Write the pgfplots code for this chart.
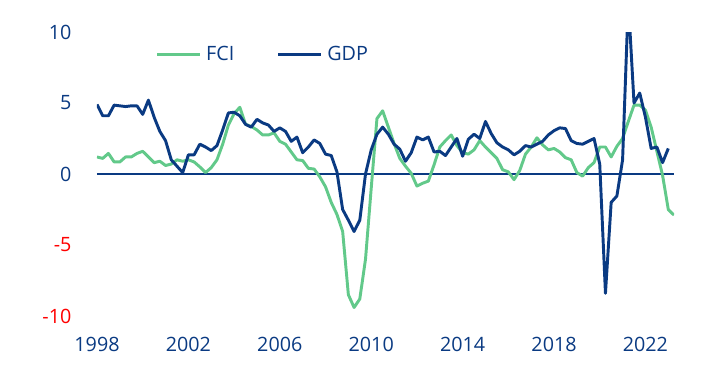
\documentclass[border=0pt]{standalone}
\usepackage{pgfplots}
\pgfplotsset{compat=1.18}
\usepackage{pgfplotstable}
\usepackage{fontspec}
\setmainfont{Open Sans}
\definecolor{navy}{HTML}{0A3A82}
\definecolor{fcigreen}{HTML}{62C98A}
\definecolor{negred}{HTML}{FF0000}

\pgfplotstableread{
x gdp
1998.00 4.9
1998.25 4.1
1998.50 4.1
1998.75 4.85
1999.00 4.8
1999.25 4.75
1999.50 4.8
1999.75 4.8
2000.00 4.2
2000.25 5.2
2000.50 4.0
2000.75 3.0
2001.00 2.35
2001.25 1.0
2001.50 0.55
2001.75 0.1
2002.00 1.35
2002.25 1.35
2002.50 2.1
2002.75 1.9
2003.00 1.65
2003.25 2.0
2003.50 3.1
2003.75 4.3
2004.00 4.35
2004.25 4.1
2004.50 3.5
2004.75 3.3
2005.00 3.85
2005.25 3.6
2005.50 3.45
2005.75 3.0
2006.00 3.25
2006.25 3.0
2006.50 2.3
2006.75 2.6
2007.00 1.5
2007.25 1.9
2007.50 2.4
2007.75 2.15
2008.00 1.4
2008.25 1.3
2008.50 0.15
2008.75 -2.5
2009.00 -3.25
2009.25 -4.05
2009.50 -3.25
2009.75 0.0
2010.00 1.7
2010.25 2.8
2010.50 3.3
2010.75 2.8
2011.00 2.1
2011.25 1.75
2011.50 0.9
2011.75 1.5
2012.00 2.6
2012.25 2.4
2012.50 2.6
2012.75 1.55
2013.00 1.6
2013.25 1.3
2013.50 1.9
2013.75 2.5
2014.00 1.25
2014.25 2.45
2014.50 2.8
2014.75 2.5
2015.00 3.7
2015.25 2.85
2015.50 2.2
2015.75 1.9
2016.00 1.7
2016.25 1.35
2016.50 1.6
2016.75 2.0
2017.00 1.9
2017.25 2.1
2017.50 2.3
2017.75 2.75
2018.00 3.05
2018.25 3.25
2018.50 3.2
2018.75 2.35
2019.00 2.15
2019.25 2.1
2019.50 2.3
2019.75 2.5
2020.00 0.7
2020.25 -8.4
2020.50 -2.0
2020.75 -1.55
2021.00 1.0
2021.25 12.2
2021.50 5.0
2021.75 5.7
2022.00 4.0
2022.25 1.8
2022.50 1.9
2022.75 0.8
2023.00 1.8
}\gdptable

\pgfplotstableread{
x fci
1998.00 1.2
1998.25 1.1
1998.50 1.45
1998.75 0.85
1999.00 0.85
1999.25 1.2
1999.50 1.2
1999.75 1.45
2000.00 1.6
2000.25 1.2
2000.50 0.8
2000.75 0.9
2001.00 0.6
2001.25 0.7
2001.50 1.0
2001.75 0.9
2002.00 1.0
2002.25 0.85
2002.50 0.5
2002.75 0.1
2003.00 0.45
2003.25 1.0
2003.50 2.1
2003.75 3.45
2004.00 4.25
2004.25 4.7
2004.50 3.5
2004.75 3.35
2005.00 3.1
2005.25 2.75
2005.50 2.75
2005.75 2.9
2006.00 2.3
2006.25 2.1
2006.50 1.55
2006.75 1.0
2007.00 0.95
2007.25 0.4
2007.50 0.35
2007.75 -0.2
2008.00 -0.9
2008.25 -2.0
2008.50 -2.85
2008.75 -4.05
2009.00 -8.5
2009.25 -9.4
2009.50 -8.8
2009.75 -6.0
2010.00 -1.0
2010.25 3.9
2010.50 4.45
2010.75 3.3
2011.00 2.15
2011.25 1.1
2011.50 0.55
2011.75 0.05
2012.00 -0.85
2012.25 -0.65
2012.50 -0.5
2012.75 0.65
2013.00 1.9
2013.25 2.35
2013.50 2.75
2013.75 2.0
2014.00 1.5
2014.25 1.4
2014.50 1.7
2014.75 2.35
2015.00 1.9
2015.25 1.5
2015.50 1.1
2015.75 0.3
2016.00 0.15
2016.25 -0.4
2016.50 0.25
2016.75 1.4
2017.00 1.9
2017.25 2.55
2017.50 2.05
2017.75 1.7
2018.00 1.8
2018.25 1.55
2018.50 1.15
2018.75 1.0
2019.00 0.1
2019.25 -0.15
2019.50 0.45
2019.75 0.8
2020.00 1.9
2020.25 1.9
2020.50 1.2
2020.75 1.95
2021.00 2.5
2021.25 3.7
2021.50 4.85
2021.75 4.85
2022.00 4.5
2022.25 3.3
2022.50 1.6
2022.75 -0.1
2023.00 -2.5
2023.25 -2.9
}\fcitable

\begin{document}
\begin{tikzpicture}
\begin{axis}[
  at={(0,0)}, anchor=south west,
  scale only axis, width=432.75pt, height=213pt,
  xmin=1998, xmax=2023.25, ymin=-10, ymax=10,
  axis line style={draw=none},
  tick style={draw=none},
  xtick={1998,2002,2006,2010,2014,2018,2022},
  xticklabels={1998,2002,2006,2010,2014,2018,2022},
  ytick={-10,-5,0,5,10},
  yticklabels={\textcolor{negred}{-10},\textcolor{negred}{-5},0,5,10},
  ticklabel style={font=\fontsize{14.8}{16}\selectfont, text=navy, inner sep=0pt},
  xticklabel style={anchor=north, yshift=-15.5pt},
  yticklabel style={anchor=east, xshift=-19pt},
  legend style={at={(0.1017,0.9215)}, anchor=west, draw=none, fill=none,
    legend columns=2, font=\fontsize{14.8}{16}\selectfont, text=navy,
    inner sep=0pt, nodes={inner sep=0pt},
    /tikz/every odd column/.append style={column sep=3.5pt},
    /tikz/every even column/.append style={column sep=32pt}},
  legend image code/.code={\draw[#1] (0pt,0pt) -- (32pt,0pt);},
]
\addplot[navy, line width=1.5pt, forget plot] coordinates {(1998,0) (2023.25,0)};
\addplot[fcigreen, line width=2.2pt, line join=round] table[x=x, y=fci] {\fcitable};
\addlegendentry{FCI}
\addplot[navy, line width=2.2pt, line join=round] table[x=x, y=gdp] {\gdptable};
\addlegendentry{GDP}
\end{axis}
\pgfresetboundingbox
\path[use as bounding box] (-72.75pt,-44.25pt) rectangle (456pt,237pt);
\end{tikzpicture}
\end{document}
